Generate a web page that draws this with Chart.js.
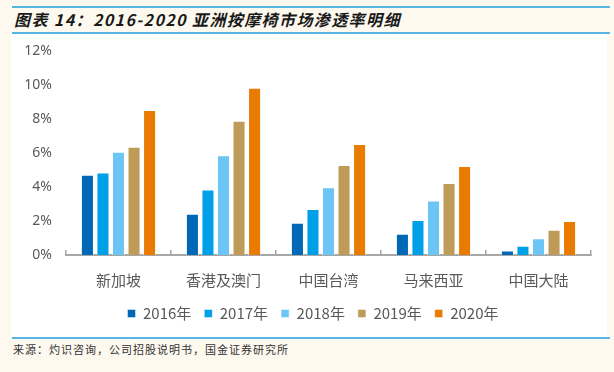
<!DOCTYPE html>
<html>
<head>
<meta charset="utf-8">
<script src="https://cdn.jsdelivr.net/npm/chart.js@4.4.0/dist/chart.umd.min.js"></script>
<style>
  html, body { margin: 0; padding: 0; width: 614px; height: 372px; overflow: hidden; background: #fdf9ef; font-family: "Noto Sans CJK SC", sans-serif; }
  .rule { position: absolute; left: 12px; width: 598px; height: 2px; background: #55b6e6; }
  #title { position: absolute; left: 14px; top: 8px; font-size: 16px; letter-spacing: 1.4px; font-weight: bold; font-style: italic; color: #1a1a1a; white-space: nowrap; line-height: 22px; }
  #panel { position: absolute; left: 11px; top: 35px; width: 596px; height: 302px; background: #fff; }
  #source { position: absolute; left: 13px; top: 341px; font-size: 11px; letter-spacing: 1px; color: #333; white-space: nowrap; line-height: 16px; }
</style>
</head>
<body>
<div class="rule" style="top:6px"></div>
<div id="title">图表 14：2016-2020 亚洲按摩椅市场渗透率明细</div>
<div class="rule" style="top:32px"></div>
<div id="panel"><canvas id="chart" width="596" height="302"></canvas></div>
<div class="rule" style="top:337px"></div>
<div id="source">来源：灼识咨询，公司招股说明书，国金证券研究所</div>

<script>
// penetration rate by region, %
const regions = ['新加坡', '香港及澳门', '中国台湾', '马来西亚', '中国大陆'];
const years = ['2016年', '2017年', '2018年', '2019年', '2020年'];
const rate2016 = [4.72, 2.42, 1.90, 1.25, 0.26];
const rate2017 = [4.86, 3.85, 2.70, 2.06, 0.54];
const rate2018 = [6.07, 5.87, 3.99, 3.21, 0.99];
const rate2019 = [6.37, 7.90, 5.30, 4.23, 1.49];
const rate2020 = [8.53, 9.84, 6.53, 5.24, 2.00];
const yTicks = [0, 2, 4, 6, 8, 10, 12];

const colors = ['#0068b7', '#00a0e9', '#6cc5f5', '#bf9b5a', '#e97c00'];
const series = [rate2016, rate2017, rate2018, rate2019, rate2020];

// the original legend sits a bit right of the canvas centre
const legendShift = {
    id: 'legendShift',
    afterLayout(chart) {
        chart.legend.left += 12;
        chart.legend.right += 12;
    }
};

const ctx = document.getElementById('chart').getContext('2d');
new Chart(ctx, {
    type: 'bar',
    data: {
        labels: regions,
        datasets: series.map((data, i) => ({
            label: years[i],
            data: data,
            backgroundColor: colors[i],
            borderColor: 'rgba(255,255,255,0.6)',
            borderWidth: { top: 1, left: 1, right: 1, bottom: 0 },
            categoryPercentage: 0.74,
            barPercentage: 0.84
        }))
    },
    options: {
        responsive: false,
        animation: false,
        layout: { padding: { top: 16, right: 16, bottom: 6, left: 0 } },
        plugins: {
            legend: {
                position: 'bottom',
                labels: {
                    boxWidth: 8,
                    boxHeight: 8,
                    padding: 13,
                    color: '#595959',
                    font: { family: '"Noto Sans CJK SC", sans-serif', size: 15 }
                }
            },
            tooltip: { enabled: false }
        },
        scales: {
            y: {
                min: 0,
                max: 12,
                afterBuildTicks: (axis) => { axis.ticks = yTicks.map(v => ({ value: v })); },
                afterFit: (axis) => { axis.width = 55; },
                grid: { display: false },
                border: { display: false },
                ticks: {
                    color: '#595959',
                    padding: 6,
                    font: { family: '"Noto Sans", sans-serif', size: 14 },
                    callback: (v) => v + '%'
                }
            },
            x: {
                afterFit: (axis) => { axis.height = 38; },
                grid: {
                    drawOnChartArea: false,
                    offset: true,
                    tickLength: -5,
                    color: '#a6a6a6',
                    lineWidth: 1.5
                },
                border: { color: '#a6a6a6', width: 2 },
                ticks: {
                    color: '#595959',
                    padding: 21,
                    font: { family: '"Noto Sans CJK SC", sans-serif', size: 15 }
                }
            }
        }
    },
    plugins: [legendShift]
});
</script>
</body>
</html>
